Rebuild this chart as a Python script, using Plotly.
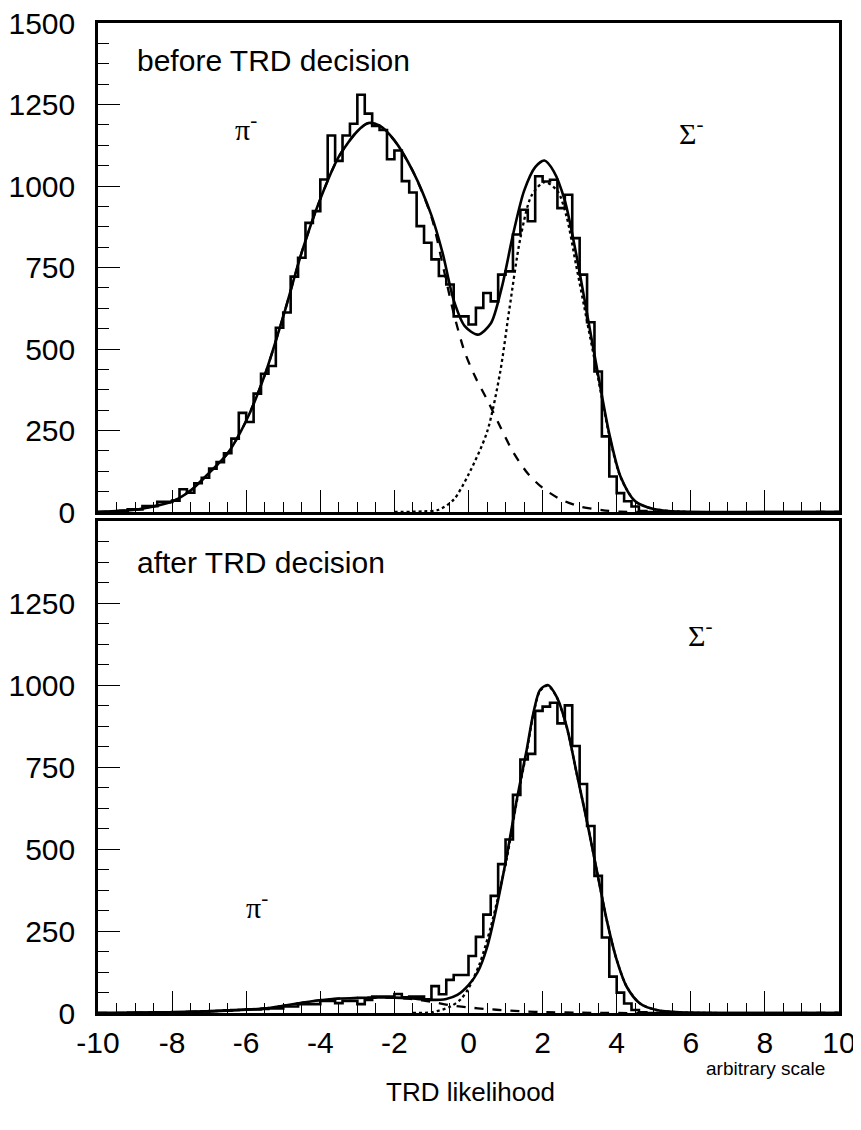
import numpy as np
import plotly.graph_objects as go

# ---------------- data ----------------
bin_lo = -10.0
bin_width = 0.2

# top panel histogram (before TRD decision), counts per 0.2 bin from -10
hist_before = [0, 0, 2, 3, 8, 8, 18, 18, 31, 31,
               35, 70, 59, 88, 105, 133, 153, 180, 225, 304,
               276, 363, 424, 448, 565, 612, 722, 780, 887, 923,
               1020, 1155, 1077, 1155, 1191, 1280, 1222, 1184, 1172, 1082,
               1109, 1015, 980, 877, 826, 775, 724, 698, 600, 600,
               575, 626, 672, 646, 728, 738, 851, 927, 892, 1030,
               1014, 1019, 932, 973, 840, 728, 582, 431, 232, 109,
               58, 33, 17, 3, 0, 0, 0, 0, 0, 0,
               0, 0, 0, 0, 0, 0, 0, 0, 0, 0,
               0, 0, 0, 0, 0, 0, 0, 0, 0, 0]

# bottom panel histogram (after TRD decision)
hist_after = [0, 0, 0, 0, 1, 1, 1, 2, 2, 2,
              3, 3, 4, 4, 5, 6, 7, 8, 9, 10,
              11, 11, 12, 14, 14, 20, 20, 27, 27, 27,
              37, 37, 30, 37, 37, 27, 40, 50, 50, 50,
              58, 48, 50, 50, 42, 82, 57, 101, 116, 116,
              174, 232, 300, 357, 454, 529, 665, 773, 790, 921,
              934, 946, 883, 938, 814, 698, 570, 418, 230, 111,
              62, 29, 9, 2, 0, 0, 0, 0, 0, 0,
              0, 0, 0, 0, 0, 0, 0, 0, 0, 0,
              0, 0, 0, 0, 0, 0, 0, 0, 0, 0]

# top panel fit curves
fit_tot_before_x = [-10, -9.5, -9, -8.5, -8, -7.5, -7, -6.5, -6, -5.5, -5, -4.5, -4, -3.5,
                    -3, -2.7, -2.4, -2, -1.5, -1, -0.7, -0.4, -0.1, 0.25, 0.6, 0.9, 1.2,
                    1.5, 1.8, 2.05, 2.3, 2.6, 2.9, 3.2, 3.5, 3.8, 4.1, 4.5, 5, 5.5, 6, 10]
fit_tot_before_y = [0, 3, 7, 17, 32, 66, 120, 180, 280, 420, 600, 797, 960, 1090,
                    1168, 1193, 1185, 1140, 1045, 910, 795, 650, 570, 544, 578, 690, 850,
                    985, 1058, 1078, 1045, 955, 795, 608, 420, 240, 110, 33, 9, 2, 0, 0]

fit_pi_before_x = [-10, -9.5, -9, -8.5, -8, -7.5, -7, -6.5, -6, -5.5, -5, -4.5, -4, -3.5,
                   -3, -2.7, -2.4, -2, -1.5, -1, -0.7, -0.4, -0.1, 0.2, 0.5, 0.85, 1.2,
                   1.6, 2.0, 2.5, 3.0, 3.6, 4.1, 5, 10]
fit_pi_before_y = [0, 3, 7, 17, 32, 66, 120, 180, 280, 420, 600, 797, 960, 1090,
                   1168, 1193, 1185, 1140, 1045, 905, 760, 610, 490, 410, 345, 263, 185,
                   118, 74, 38, 17, 6, 1, 0, 0]

fit_sig_before_x = [-2, -1.2, -0.8, -0.4, 0.0, 0.5, 0.85, 1.1, 1.4, 1.7, 2.05, 2.4, 2.65,
                    2.9, 3.2, 3.5, 3.8, 4.1, 4.5, 5, 6]
fit_sig_before_y = [0, 2, 7, 38, 115, 245, 426, 620, 840, 970, 1012, 985, 905,
                    760, 585, 410, 235, 108, 32, 9, 0]

# bottom panel fit curves
fit_tot_after_x = [-10, -9, -8, -7, -6, -5.5, -5, -4.5, -4, -3.5, -3, -2.5, -2, -1.5, -1,
                   -0.6, -0.3, 0.0, 0.25, 0.5, 0.76, 1.03, 1.3, 1.57, 1.75, 1.93, 2.14,
                   2.38, 2.65, 2.92, 3.19, 3.46, 3.73, 4.0, 4.27, 4.63, 5.08, 5.7, 10]
fit_tot_after_y = [0, 0.5, 2, 5, 10, 14, 22, 31, 39, 44, 46, 47, 47, 44, 40,
                   43, 55, 85, 125, 200, 324, 477, 649, 802, 914, 985, 1000,
                   964, 873, 731, 588, 436, 284, 162, 80, 29, 9, 2, 0]

fit_pi_after_x = [-10, -9, -8, -7, -6, -5.5, -5, -4.5, -4, -3.5, -3, -2.5, -2, -1.5, -1,
                  -0.5, 0, 0.5, 1, 1.5, 2, 3, 4, 10]
fit_pi_after_y = [0, 0.5, 2, 5, 10, 14, 22, 31, 39, 44, 46, 47, 46, 42, 34,
                  24, 17, 12, 8, 5, 3, 1, 0, 0]

fit_sig_after_x = [-1.5, -1, -0.5, -0.2, 0.0, 0.3, 0.6, 1.03, 1.3, 1.57, 1.75, 1.93, 2.14,
                   2.38, 2.65, 2.92, 3.19, 3.46, 3.73, 4.0, 4.27, 4.63, 5.08, 5.7, 10]
fit_sig_after_y = [0, 2, 19, 43, 75, 150, 262, 470, 643, 797, 910, 982, 998,
                   963, 872, 730, 588, 436, 284, 162, 80, 29, 9, 2, 0]

y_ticks_top = [0, 250, 500, 750, 1000, 1250, 1500]
y_ticks_bottom = [0, 250, 500, 750, 1000, 1250]
x_ticks = [-10, -8, -6, -4, -2, 0, 2, 4, 6, 8, 10]
x_ticktext = ["-10", "-8", "-6", "-4", "-2", "0", "2", "4", "6", "8", "10"]

# ---------------- figure ----------------
edges = np.round(bin_lo + bin_width * np.arange(len(hist_before) + 1), 3)

def step_xy(vals):
    xs = list(edges)
    ys = list(vals) + [vals[-1]]
    return xs, ys

fig = go.Figure()
LW = 2.6
BLACK = "black"

for vals, ax in [(hist_before, ("x", "y")), (hist_after, ("x2", "y2"))]:
    xs, ys = step_xy(vals)
    fig.add_trace(go.Scatter(x=xs, y=ys, mode="lines", line=dict(color=BLACK, width=LW, shape="hv"),
                             xaxis=ax[0], yaxis=ax[1], showlegend=False, hoverinfo="skip"))

curves = [
    (fit_pi_before_x, fit_pi_before_y, "dash", ("x", "y"), 2.3),
    (fit_sig_before_x, fit_sig_before_y, "dot", ("x", "y"), 2.3),
    (fit_tot_before_x, fit_tot_before_y, "solid", ("x", "y"), 2.6),
    (fit_pi_after_x, fit_pi_after_y, "dash", ("x2", "y2"), 2.3),
    (fit_sig_after_x, fit_sig_after_y, "dot", ("x2", "y2"), 2.3),
    (fit_tot_after_x, fit_tot_after_y, "solid", ("x2", "y2"), 2.6),
]
for cx, cy, dash, ax, w in curves:
    fig.add_trace(go.Scatter(x=cx, y=cy, mode="lines",
                             line=dict(color=BLACK, width=w, dash=dash, shape="spline", smoothing=0.8),
                             xaxis=ax[0], yaxis=ax[1], showlegend=False, hoverinfo="skip"))

# the page body has an 8px margin: size the figure so page fits the 861x1130 window
OFF = 8
W, H = 861 - OFF, 1130 - 2 * OFF
PX_L, PX_R, PX_T, PX_B = 98, 839, 23, 1013   # plot box in window pixels
L, R, T, B = PX_L - OFF, (W + OFF) - PX_R, PX_T - OFF, (H + OFF) - PX_B
plot_w = PX_R - PX_L
plot_h = PX_B - PX_T
top_dom = [(PX_B - 512) / plot_h, 1.0]
bot_dom = [0.0, (PX_B - 521) / plot_h]

tickfont = dict(family="Liberation Sans, Arial, sans-serif", size=30, color="black")

xcommon = dict(range=[-10, 10], showline=True, linecolor=BLACK, linewidth=2.5, mirror=True,
               ticks="inside", ticklen=22, tickwidth=1.2, tickcolor=BLACK,
               tickmode="array", tickvals=x_ticks, ticktext=x_ticktext,
               showgrid=False, zeroline=False, automargin=False, ticklabeloverflow="allow",
               minor=dict(ticks="inside", ticklen=10, tickwidth=1.2, tickcolor=BLACK,
                          tickmode="linear", tick0=-10, dtick=0.5, showgrid=False),
               tickfont=tickfont)
ycommon = dict(range=[0, 1500], showline=True, linecolor=BLACK, linewidth=2.5, mirror=True,
               ticks="inside", ticklen=22, tickwidth=1.2, tickcolor=BLACK,
               showgrid=False, zeroline=False, tickmode="array", automargin=False,
               ticklabeloverflow="allow",
               minor=dict(ticks="inside", ticklen=11, tickwidth=1.2, tickcolor=BLACK,
                          tickmode="linear", tick0=0, dtick=62.5, showgrid=False),
               tickfont=tickfont, ticklabelstandoff=14)

fig.update_layout(
    width=W, height=H, margin=dict(l=L, r=R, t=T, b=B, autoexpand=False),
    paper_bgcolor="white", plot_bgcolor="white", showlegend=False,
    xaxis=dict(domain=[0, 1], anchor="y", showticklabels=False, **xcommon),
    yaxis=dict(domain=top_dom, anchor="x", tickvals=y_ticks_top, ticktext=[str(v) for v in y_ticks_top], **ycommon),
    xaxis2=dict(domain=[0, 1], anchor="y2", showticklabels=True, ticklabelstandoff=1, **xcommon),
    yaxis2=dict(domain=bot_dom, anchor="x2", tickvals=y_ticks_bottom, ticktext=[str(v) for v in y_ticks_bottom], **ycommon),
)

txtfont = dict(family="Liberation Sans, Arial, sans-serif", size=30, color="black")
serif = dict(family="Liberation Serif, Times New Roman, serif", size=30, color="black")
ann = [
    dict(text="before TRD decision", x=-9.0, y=1386, xref="x", yref="y", xanchor="left", yanchor="middle", font=txtfont),
    dict(text="after TRD decision", x=-9.0, y=1375, xref="x2", yref="y2", xanchor="left", yanchor="middle", font=txtfont),
    dict(text="π<sup>-</sup>", x=-6.0, y=1180, xref="x", yref="y", xanchor="center", yanchor="middle", font=serif),
    dict(text="Σ<sup>-</sup>", x=6.0, y=1170, xref="x", yref="y", xanchor="center", yanchor="middle", font=serif),
    dict(text="Σ<sup>-</sup>", x=6.25, y=1158, xref="x2", yref="y2", xanchor="center", yanchor="middle", font=serif),
    dict(text="π<sup>-</sup>", x=-5.7, y=330, xref="x2", yref="y2", xanchor="center", yanchor="middle", font=serif),
    dict(text="TRD likelihood", x=(470 - PX_L) / plot_w, y=(PX_B - 1092) / plot_h, xref="paper", yref="paper",
         xanchor="center", yanchor="middle",
         font=dict(family="Liberation Sans, Arial, sans-serif", size=26, color="black")),
    dict(text="arbitrary scale", x=(765 - PX_L) / plot_w, y=(PX_B - 1068) / plot_h, xref="paper", yref="paper",
         xanchor="center", yanchor="middle",
         font=dict(family="Liberation Sans, Arial, sans-serif", size=19, color="black")),
]
for a in ann:
    a["showarrow"] = False
fig.update_layout(annotations=ann)

fig.write_html("out.html")
